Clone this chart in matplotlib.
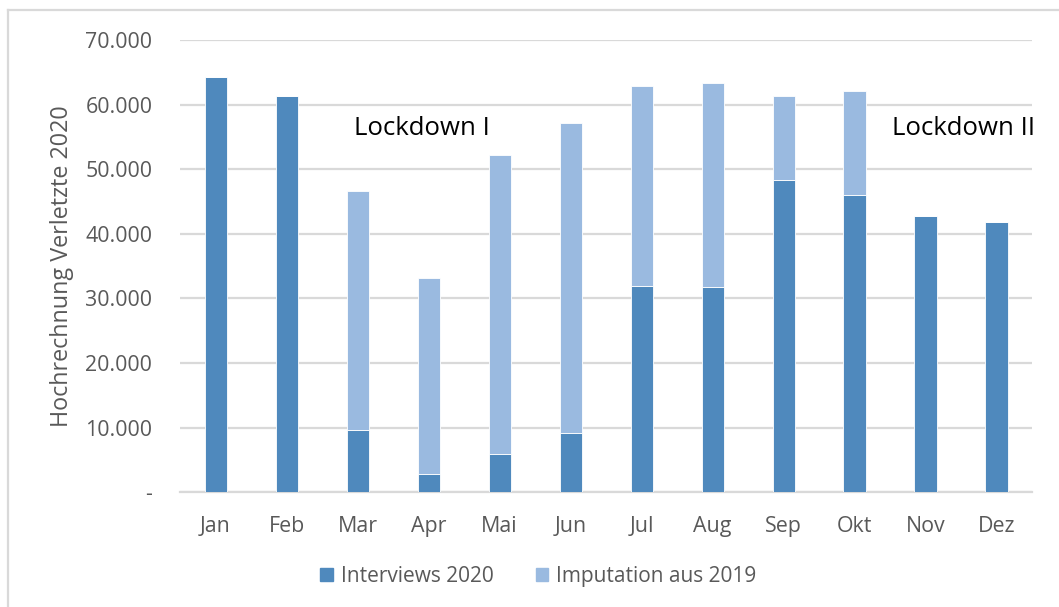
import matplotlib.pyplot as plt
from matplotlib.lines import Line2D
from matplotlib.ticker import FuncFormatter

months = ['Jan', 'Feb', 'Mar', 'Apr', 'Mai', 'Jun', 'Jul', 'Aug', 'Sep', 'Okt', 'Nov', 'Dez']
interviews_2020 = [64300, 61400, 9700, 2900, 5900, 9100, 31900, 31800, 48400, 46000, 42800, 41900]
imputation_2019 = [0, 0, 36900, 30200, 46300, 48000, 31000, 31500, 13000, 16100, 0, 0]

DARK = '#4f89bd'
LIGHT = '#9abae0'
GREY = '#595959'

plt.rcParams['font.family'] = ['Open Sans', 'DejaVu Sans']

fig = plt.figure(figsize=(10.59, 6.07), dpi=100)
ax = fig.add_axes([0.170, 0.189, 0.8045, 0.745])

x = list(range(len(months)))
ax.bar(x, interviews_2020, width=0.31, color=DARK, edgecolor='white', linewidth=0.6,
       label='Interviews 2020', zorder=3)
ax.bar(x, imputation_2019, width=0.31, bottom=interviews_2020, color=LIGHT,
       edgecolor='white', linewidth=0.6, label='Imputation aus 2019', zorder=3)

ax.set_xlim(-0.5, 11.5)
ax.set_ylim(0, 70000)
ax.set_yticks(range(0, 70001, 10000))


def fmt(v, pos):
    if v == 0:
        return '-'
    return f'{int(v):,}'.replace(',', '.')


ax.yaxis.set_major_formatter(FuncFormatter(fmt))
ax.set_xticks(x)
ax.set_xticklabels(months)
ax.tick_params(axis='both', length=0, labelsize=15.4, colors=GREY)
ax.tick_params(axis='x', pad=17)
ax.tick_params(axis='y', pad=20)
ax.grid(axis='y', color='#d9d9d9', linewidth=1.6, zorder=0)
for s in ['top', 'right', 'left']:
    ax.spines[s].set_visible(False)
ax.spines['bottom'].set_color('#d9d9d9')
ax.spines['bottom'].set_linewidth(1.6)

ax.set_ylabel('Hochrechnung Verletzte 2020', fontsize=16.8, color=GREY, labelpad=8)

ax.text(2.91, 56300, 'Lockdown I', fontsize=18.5, color='black', ha='center', va='center')
ax.text(10.53, 56300, 'Lockdown II', fontsize=18.5, color='black', ha='center', va='center')

handles = [plt.Rectangle((0, 0), 1, 1, color=DARK), plt.Rectangle((0, 0), 1, 1, color=LIGHT)]
fig.legend(handles, ['Interviews 2020', 'Imputation aus 2019'], loc='center',
           bbox_to_anchor=(0.5085, 0.05), ncol=2, frameon=False, fontsize=15,
           handlelength=0.6, handleheight=0.6, handletextpad=0.4, columnspacing=2.0,
           labelcolor=GREY)

# outer chart frame (only top and left edge visible in the crop)
fig.add_artist(Line2D([8 / 1059, 8 / 1059], [0, 1 - 10 / 607], transform=fig.transFigure,
                      color='#d9d9d9', linewidth=1.6))
fig.add_artist(Line2D([8 / 1059, 1], [1 - 10 / 607, 1 - 10 / 607], transform=fig.transFigure,
                      color='#d9d9d9', linewidth=1.6))

fig.savefig('out.png', dpi=100)
